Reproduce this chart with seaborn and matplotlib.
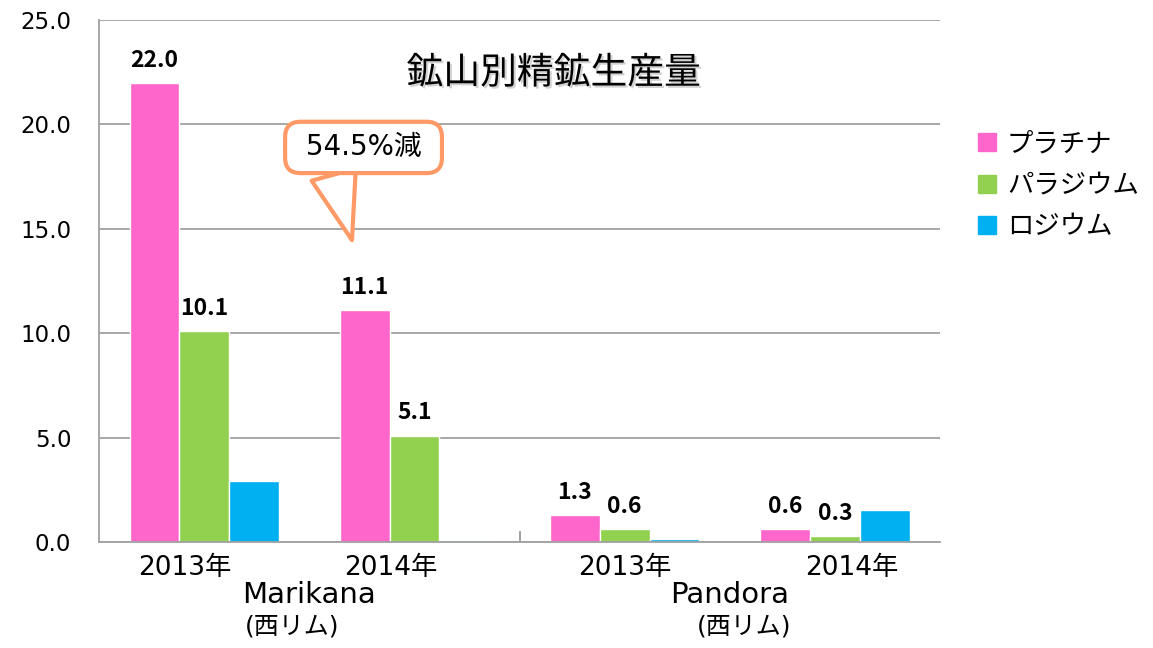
import pandas as pd
import numpy as np
import matplotlib.pyplot as plt
import matplotlib.patheffects as pe
import seaborn as sns

# データ
groups = ['M2013', 'M2014', 'P2013', 'P2014']
year_labels = ['2013年', '2014年', '2013年', '2014年']
mines = ['Marikana', 'Pandora']
metals = ['プラチナ', 'パラジウム', 'ロジウム']
platinum = [22.0, 11.1, 1.3, 0.6]
palladium = [10.1, 5.1, 0.6, 0.3]
rhodium = [2.93, 0.08, 0.16, 1.52]
colors = ['#FF66CC', '#92D050', '#00B0F0']

df = pd.DataFrame({
    'group': groups * 3,
    'metal': np.repeat(metals, len(groups)),
    'value': platinum + palladium + rhodium,
})

sns.set_theme(style='white')
plt.rcParams['font.family'] = ['DejaVu Sans', 'Noto Sans CJK JP']
plt.rcParams['text.color'] = 'black'
plt.rcParams['xtick.color'] = 'black'
plt.rcParams['ytick.color'] = 'black'
jp = ['Noto Sans CJK JP', 'DejaVu Sans']

fig = plt.figure(figsize=(11.53, 6.48), dpi=100)
ax = fig.add_axes([0.0859, 0.1636, 0.7294, 0.8054])

sns.barplot(data=df, x='group', y='value', hue='metal', order=groups,
            hue_order=metals, palette=colors, width=0.71, saturation=1,
            ax=ax, legend=False)

# データラベル (プラチナとパラジウムのみ)
for cont in ax.containers[:2]:
    ax.bar_label(cont, fmt='%.1f', padding=8, fontsize=16.5,
                 fontweight='bold', family=jp, color='black')

ax.set_ylim(0, 25)
ax.set_xlim(-0.5, 3.5)
ax.set_yticks(np.arange(0, 26, 5))
ax.set_yticklabels([f'{v:.1f}' for v in np.arange(0, 26, 5)], fontsize=16.5)
ax.tick_params(axis='y', length=0, pad=20, labelcolor='black')
ax.set_xticklabels([])
ax.tick_params(axis='x', length=0)
ax.set_xticks([1.5], minor=True)
ax.tick_params(axis='x', which='minor', direction='in', length=8,
               color='#A0A0A0', width=1.4, bottom=True)
ax.set_xlabel('')
ax.set_ylabel('')
ax.yaxis.grid(True, color='#A0A0A0', lw=1.3)
ax.set_axisbelow(True)
for s in ['top', 'right']:
    ax.spines[s].set_visible(False)
for s in ['left', 'bottom']:
    ax.spines[s].set_color('#A0A0A0')
    ax.spines[s].set_linewidth(1.3)

# 年ラベルと鉱山名
trans = ax.get_xaxis_transform()
for xp, lab in zip([-0.09, 0.89, 2.0, 3.08], year_labels):
    ax.text(xp, -0.05, lab, transform=trans, ha='center', va='center',
            fontsize=19)
for xp, m in zip([0.5, 2.5], mines):
    ax.text(xp, -0.102, m, transform=trans, ha='center', va='center',
            fontsize=21)
for xp in [0.42, 2.57]:
    ax.text(xp, -0.162, '(西リム)', transform=trans, ha='center', va='center',
            fontsize=18)

# タイトル
fig.text(0.48, 0.887, '鉱山別精鉱生産量', ha='center', va='center',
         fontsize=26.5, family=jp,
         path_effects=[pe.SimplePatchShadow(offset=(1.5, -1.5), alpha=0.35,
                                            shadow_rgbFace='grey'), pe.Normal()])

# 吹き出し
ax.annotate(' 54.5%減 ', xy=(0.703, 14.46), xytext=(0.758, 18.9),
            ha='center', va='center', fontsize=20,
            bbox=dict(boxstyle='round,pad=0.42,rounding_size=0.55', fc='white',
                      ec='#FF9966', lw=3),
            arrowprops=dict(arrowstyle='wedge,tail_width=1.65,shrink_factor=0.5',
                            fc='white', ec='#FF9966', lw=3, shrinkA=0, shrinkB=0,
                            relpos=(0.22, 0.5)))

# 凡例
handles = [plt.Rectangle((0, 0), 1, 1, color=c) for c in colors]
fig.legend(handles, metals, loc='center left', bbox_to_anchor=(0.828, 0.714),
           frameon=False, prop={'family': jp, 'size': 19}, handlelength=0.68,
           handleheight=0.68, handletextpad=0.4, labelspacing=0.55)

plt.savefig('out.png', dpi=100)
